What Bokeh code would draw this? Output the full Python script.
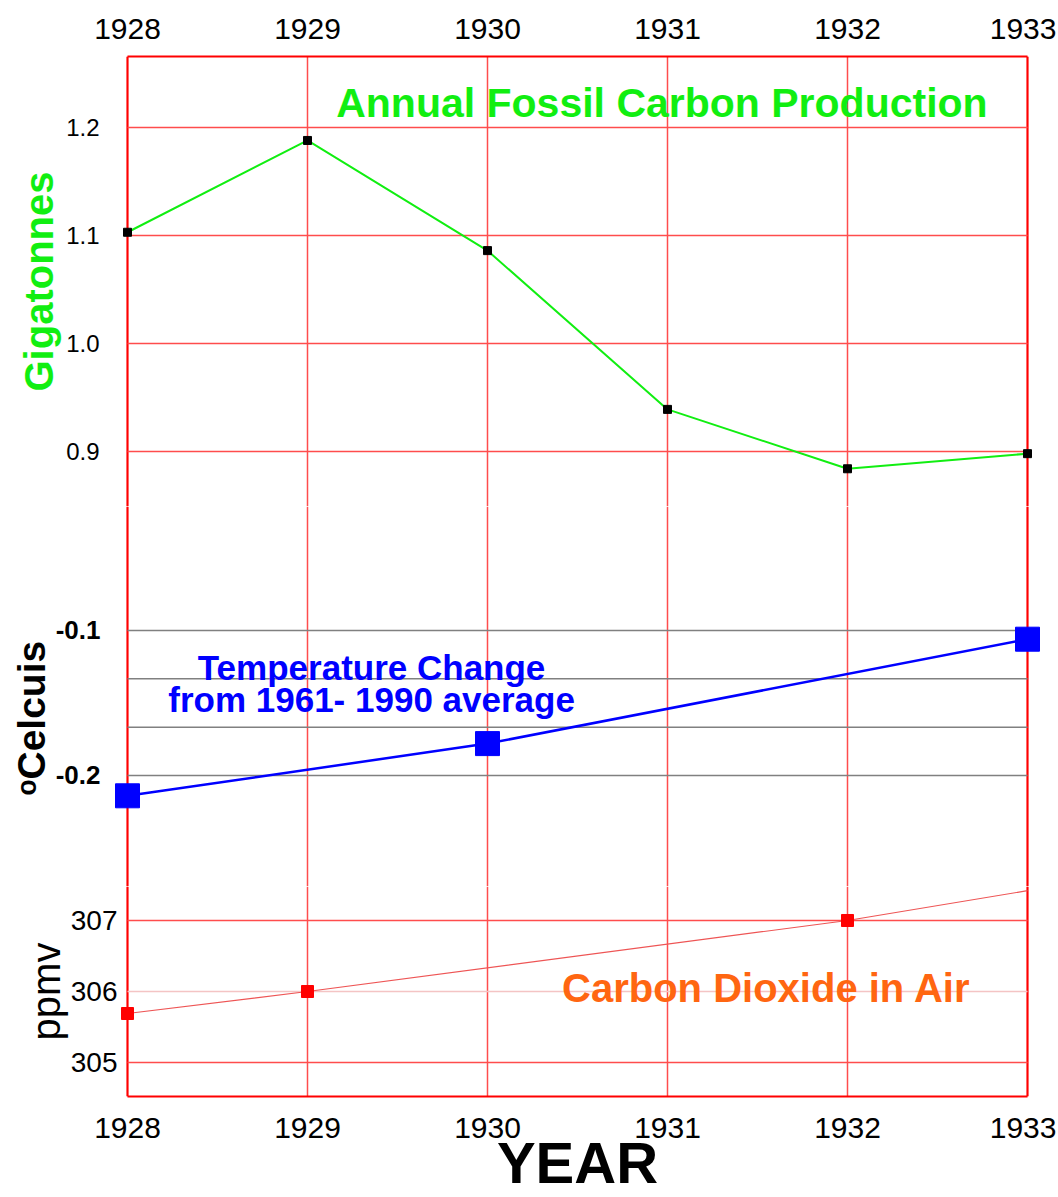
from bokeh.plotting import figure
from bokeh.layouts import column
from bokeh.models import Range1d, FixedTicker, Grid, Label, Span, PrintfTickFormatter
from bokeh.embed import file_html
from bokeh.resources import INLINE

# ---------------- data ----------------
year_ticks = [1928, 1929, 1930, 1931, 1932, 1933]

carbon_years = [1928, 1929, 1930, 1931, 1932, 1933]
carbon_gt = [1.103, 1.188, 1.086, 0.939, 0.884, 0.898]

temp_years = [1928, 1930, 1933]
temp_c = [-0.214, -0.178, -0.106]

co2_line_years = [1928, 1929, 1932, 1933]
co2_line_ppmv = [305.69, 306.0, 307.0, 307.42]
co2_marker_years = [1928, 1929, 1932]
co2_marker_ppmv = [305.69, 306.0, 307.0]

gt_ticks = [0.9, 1.0, 1.1, 1.2]
temp_ticks = [-0.2, -0.1]
temp_grid = [-0.2, -0.5 / 3, -0.4 / 3, -0.1]
co2_ticks = [305, 307]
co2_light_ticks = [306]
co2_label_ticks = [305, 306, 307]

FONT = "Liberation Sans"
RED = "#ff0000"
GRID_RED = "#ff4d4d"
GREEN = "#11ee11"
BLUE = "#0000ff"
ORANGE = "#ff6611"

W = 1056
LEFT = 114
RIGHT = 16
PAD = 13.0 / 180.0  # pixel padding converted to years so edge markers are not clipped
X0, X1 = year_ticks[0], year_ticks[-1]


def make(height, top, bottom, yr, xloc):
    p = figure(width=W, height=height, x_range=Range1d(X0 - PAD, X1 + PAD), y_range=Range1d(*yr),
               output_backend="svg", toolbar_location=None, x_axis_location=xloc,
               min_border_left=LEFT, min_border_right=RIGHT,
               min_border_top=top, min_border_bottom=bottom,
               outline_line_color=None, background_fill_color="white",
               border_fill_color="white")
    for g in p.xgrid:
        g.visible = False
    for g in p.ygrid:
        g.visible = False
    p.add_layout(Grid(dimension=0, ticker=FixedTicker(ticks=year_ticks),
                      grid_line_color=GRID_RED, grid_line_alpha=1.0, grid_line_width=1.5))
    for xb in (X0, X1):
        p.add_layout(Span(location=xb, dimension="height", line_color=RED, line_width=2,
                          level="underlay"))
    ax = p.yaxis[0]
    ax.axis_line_color = None
    ax.major_tick_line_color = None
    ax.minor_tick_line_color = None
    ax.major_tick_out = 0
    ax.major_label_text_font = FONT
    ax.axis_label_text_font = FONT
    ax.major_label_text_color = "black"
    return p


def style_x(ax):
    ax.ticker = FixedTicker(ticks=year_ticks)
    ax.bounds = (X0, X1)
    ax.axis_line_color = RED
    ax.axis_line_width = 2
    ax.major_tick_line_color = None
    ax.minor_tick_line_color = None
    ax.major_tick_out = 0
    ax.major_label_text_font = FONT
    ax.major_label_text_font_size = "30px"
    ax.major_label_text_color = "black"


def hgrid(p, ticks, color, alpha, width):
    n = len(ticks)
    p.segment(x0=[X0] * n, y0=ticks, x1=[X1] * n, y1=ticks,
              line_color=color, line_alpha=alpha, line_width=width)


# ---------------- top panel: fossil carbon ----------------
p1 = make(506, 56, 0, (0.849074, 1.265741), "above")
style_x(p1.xaxis[0])
p1.xaxis[0].major_label_standoff = 18
hgrid(p1, gt_ticks, GRID_RED, 1.0, 1.5)
a1 = p1.yaxis[0]
a1.ticker = FixedTicker(ticks=gt_ticks)
a1.formatter = PrintfTickFormatter(format="%.1f")
a1.major_label_text_font_size = "24px"
a1.major_label_standoff = 15
a1.axis_label = "Gigatonnes"
a1.axis_label_text_color = GREEN
a1.axis_label_text_font_size = "40px"
a1.axis_label_text_font_style = "bold"
a1.axis_label_standoff = 2

p1.line(carbon_years, carbon_gt, line_color=GREEN, line_width=2)
p1.scatter(carbon_years, carbon_gt, marker="square", size=8, fill_color="black", line_color="black")
p1.add_layout(Label(x=1930.969, y=1.223, text="Annual Fossil Carbon Production",
                    text_font=FONT, text_font_size="41px", text_font_style="bold",
                    text_color=GREEN, text_align="center", text_baseline="middle"))

# ---------------- middle panel: temperature ----------------
p2 = make(380, 0, 0, (-0.276552, -0.014483), None)
hgrid(p2, temp_grid, "#808080", 1.0, 1.5)
a2 = p2.yaxis[0]
a2.ticker = FixedTicker(ticks=temp_ticks)
a2.formatter = PrintfTickFormatter(format="%.1f")
a2.major_label_text_font_size = "26px"
a2.major_label_text_font_style = "bold"
a2.major_label_standoff = 14
a2.axis_label = "ᵒCelcuis\u00a0\u00a0\u00a0\u00a0"
a2.axis_label_text_color = "black"
a2.axis_label_text_font_size = "39px"
a2.axis_label_text_font_style = "bold"
a2.axis_label_standoff = 0

p2.line(temp_years, temp_c, line_color=BLUE, line_width=2.5)
p2.scatter(temp_years, temp_c, marker="square", size=24, fill_color=BLUE, line_color=BLUE)
p2.add_layout(Label(x=1929.356, y=-0.1255, text="Temperature Change",
                    text_font=FONT, text_font_size="35px", text_font_style="bold",
                    text_color=BLUE, text_align="center", text_baseline="middle"))
p2.add_layout(Label(x=1929.356, y=-0.1476, text="from 1961- 1990 average",
                    text_font=FONT, text_font_size="35px", text_font_style="bold",
                    text_color=BLUE, text_align="center", text_baseline="middle"))

# ---------------- bottom panel: CO2 ----------------
p3 = make(311, 0, 101, (304.521127, 307.478873), "below")
style_x(p3.xaxis[0])
p3.xaxis[0].major_label_standoff = 21
p3.xaxis[0].axis_label = "YEAR"
p3.xaxis[0].axis_label_text_font = FONT
p3.xaxis[0].axis_label_text_font_size = "58px"
p3.xaxis[0].axis_label_text_font_style = "bold"
p3.xaxis[0].axis_label_text_color = "black"
p3.xaxis[0].axis_label_standoff = -11
hgrid(p3, co2_ticks, GRID_RED, 1.0, 1.5)
hgrid(p3, co2_light_ticks, "#f4c4c4", 1.0, 1.5)
a3 = p3.yaxis[0]
a3.ticker = FixedTicker(ticks=co2_label_ticks)
a3.formatter = PrintfTickFormatter(format="%d")
a3.major_label_text_font_size = "28px"
a3.major_label_standoff = -3
a3.axis_label = "ppmv"
a3.axis_label_text_color = "black"
a3.axis_label_text_font_size = "40px"
a3.axis_label_text_font_style = "normal"
a3.axis_label_standoff = 0

p3.line(co2_line_years, co2_line_ppmv, line_color="#ee5555", line_width=1.2)
p3.scatter(co2_marker_years, co2_marker_ppmv, marker="square", size=12, fill_color=RED, line_color=RED)
p3.add_layout(Label(x=1931.55, y=306.056, text="Carbon Dioxide in Air",
                    text_font=FONT, text_font_size="40px", text_font_style="bold",
                    text_color=ORANGE, text_align="center", text_baseline="middle"))

layout = column(p1, p2, p3, spacing=0)

with open("out.html", "w") as f:
    f.write(file_html(layout, INLINE))
